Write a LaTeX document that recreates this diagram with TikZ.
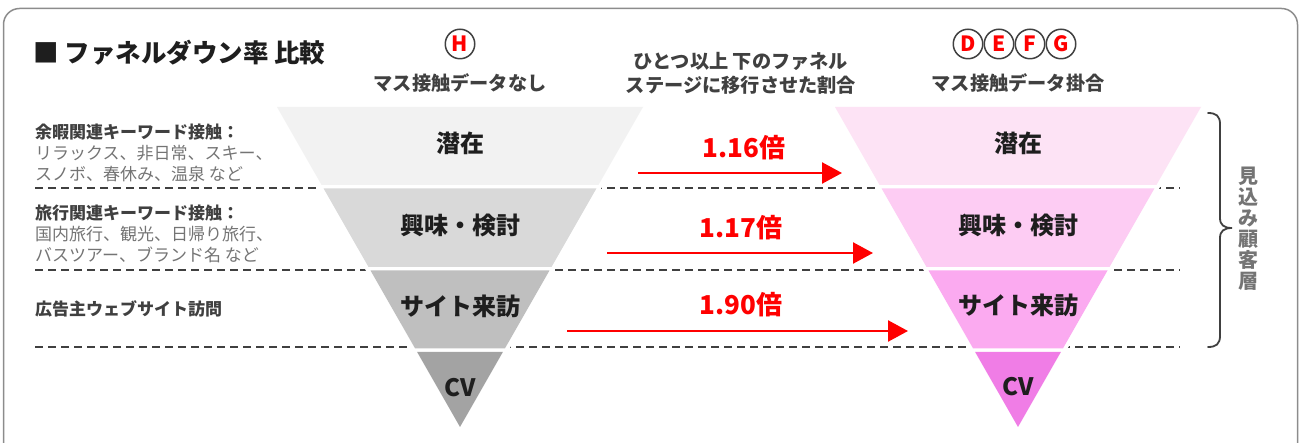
\documentclass[tikz,border=0pt]{standalone}
\usepackage{fontspec}
\setmainfont{Noto Sans CJK JP}
\usetikzlibrary{arrows.meta}
\definecolor{dg}{HTML}{404040}
\definecolor{mg}{HTML}{747474}
\definecolor{frame}{HTML}{8C8C8C}
\definecolor{tx}{HTML}{1E1E1E}
\definecolor{ga}{HTML}{F2F2F2}
\definecolor{gb}{HTML}{D9D9D9}
\definecolor{gc}{HTML}{BFBFBF}
\definecolor{gd}{HTML}{A3A3A3}
\definecolor{pa}{HTML}{FDE3F5}
\definecolor{pb}{HTML}{FDCCF3}
\definecolor{pc}{HTML}{FBAAF0}
\definecolor{pd}{HTML}{F07DE6}
\definecolor{rd}{HTML}{FF0000}
\newcommand\fband[4]{%
  \fill[#4] ({#1-183+0.5719*(#2-107)},#2) -- ({#1+183-0.5719*(#2-107)},#2)
    -- ({#1+183-0.5719*(#3-107)},#3) -- ({#1-183+0.5719*(#3-107)},#3) -- cycle;}
\newcommand\fhalo[1]{%
  \fill[white] ({#1-190},103) -- ({#1+190},103) -- (#1,435) -- cycle;}
\tikzset{
  stagelab/.style={font=\bfseries\fontsize{24}{24}\selectfont, text=tx, inner sep=0pt},
  ratelab/.style={font=\bfseries\fontsize{26}{26}\selectfont, text=rd, inner sep=0pt},
  headlab/.style={font=\bfseries\fontsize{19.2}{24}\selectfont, text=dg, inner sep=0pt, align=center},
  sidebold/.style={font=\bfseries\fontsize{17}{21}\selectfont, text=dg, inner sep=0pt, anchor=west},
  sidenorm/.style={font=\fontsize{17}{21}\selectfont, text=mg, inner sep=0pt, anchor=west},
  circlab/.style={circle, draw=dg, line width=1.5pt, minimum size=29.5pt, inner sep=0pt,
    text=rd, font=\bfseries\fontsize{21}{21}\selectfont},
  dashline/.style={draw=dg, line width=2pt, dash pattern=on 8pt off 5pt},
  ratearrow/.style={draw=rd, line width=2.4pt, -{Triangle[length=20pt,width=21pt]}},
}
\begin{document}
\begin{tikzpicture}[x=1pt,y=-1pt]
\useasboundingbox (0,0) rectangle (1302,443);
% outer frame
\draw[frame, line width=1.5pt, rounded corners=16pt] (3.5,8.5) rectangle (1297.5,470);
% title
\node[font=\bfseries\fontsize{25.5}{26}\selectfont, text=tx, anchor=west, inner sep=0pt] (title) at (33,53) {■ ファネルダウン率 比較};
% headers
\node[circlab] (cH) at (460,44) {H};
\node[headlab] (hL) at (460,83) {マス接触データなし};
\node[headlab] (hM) at (741,73) {ひとつ以上 下のファネル\\ステージに移行させた割合};
\node[circlab] (cD) at (968,44) {D};
\node[circlab] (cE) at (999,44) {E};
\node[circlab] (cF) at (1030,44) {F};
\node[circlab] (cG) at (1061,44) {G};
\node[headlab] (hR) at (1018,83) {マス接触データ掛合};
% dashed separators
\draw[dashline] (35,188.5) -- (1180,188.5);
\draw[dashline] (35,270) -- (1180,270);
\draw[dashline] (35,347.5) -- (1180,347.5);
% funnels
\fhalo{460}
\fhalo{1018}
\fband{460}{107}{185}{ga}
\fband{460}{188.5}{267}{gb}
\fband{460}{270.5}{348.5}{gc}
\fband{460}{352}{427}{gd}
\fband{1018}{107}{185}{pa}
\fband{1018}{188.5}{267}{pb}
\fband{1018}{270.5}{348.5}{pc}
\fband{1018}{352}{427}{pd}
\node[stagelab] (l1) at (460,143) {潜在};
\node[stagelab] (l2) at (460,225) {興味・検討};
\node[stagelab] (l3) at (460,306) {サイト来訪};
\node[stagelab] (l4) at (460,388) {CV};
\node[stagelab] (r1) at (1018,143) {潜在};
\node[stagelab] (r2) at (1018,225) {興味・検討};
\node[stagelab] (r3) at (1018,305) {サイト来訪};
\node[stagelab] (r4) at (1018,387) {CV};
% side labels
\node[sidebold] (s1a) at (35,132) {余暇関連キーワード接触：};
\node[sidenorm] (s1b) at (35,153) {リラックス、非日常、スキー、};
\node[sidenorm] (s1c) at (35,174) {スノボ、春休み、温泉 など};
\node[sidebold] (s2a) at (35,213) {旅行関連キーワード接触：};
\node[sidenorm] (s2b) at (35,234) {国内旅行、観光、日帰り旅行、};
\node[sidenorm] (s2c) at (35,255) {バスツアー、ブランド名 など};
\node[sidebold] (s3a) at (35,309) {広告主ウェブサイト訪問};
% rate arrows
\coordinate (a1s) at (638,173); \coordinate (a1e) at (842,173);
\coordinate (a2s) at (607,253); \coordinate (a2e) at (873,253);
\coordinate (a3s) at (567,331); \coordinate (a3e) at (908,331);
\draw[ratearrow] (a1s) -- (a1e);
\draw[ratearrow] (a2s) -- (a2e);
\draw[ratearrow] (a3s) -- (a3e);
\node[ratelab] (t1) at (744,148) {1.16倍};
\node[ratelab] (t2) at (741,228) {1.17倍};
\node[ratelab] (t3) at (741,305) {1.90倍};
% brace
\draw[dg, line width=1.8pt, line cap=round]
  (1208,113) .. controls (1216,113) and (1220,116) .. (1220,124)
  -- (1220,218) .. controls (1220,225) and (1224,228) .. (1232,228)
  .. controls (1224,228) and (1220,231) .. (1220,238)
  -- (1220,336) .. controls (1220,344) and (1216,347) .. (1208,347);
\node[font=\bfseries\fontsize{20}{21}\selectfont, text=mg, align=center, inner sep=0pt] (vt) at (1248,229) {見\\込\\み\\顧\\客\\層};
\end{tikzpicture}
\end{document}
